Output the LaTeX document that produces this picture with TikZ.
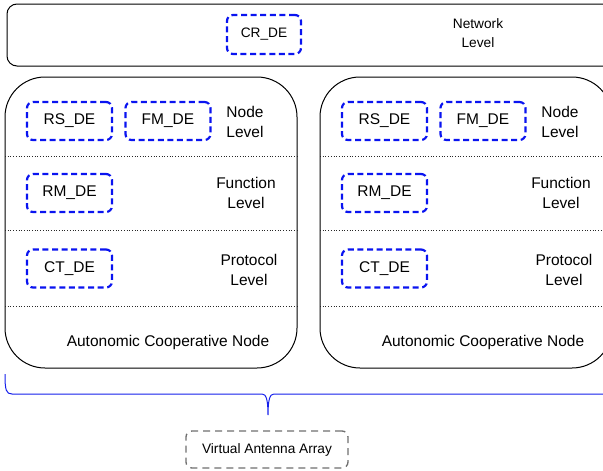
\documentclass[tikz,border=0pt]{standalone}
\usepackage{fontspec}
\setmainfont{Liberation Sans}
\usepackage{tikz}
\usetikzlibrary{arrows.meta,calc,positioning}
\definecolor{DEBlue}{RGB}{10,20,240}
\definecolor{BraceBlue}{RGB}{20,30,235}
\definecolor{ArrayGray}{RGB}{110,110,110}
\definecolor{LineGray}{RGB}{40,40,40}

\begin{document}
\begin{tikzpicture}[x=1pt,y=-1pt,
    detag/.style={draw=DEBlue,line width=2.2pt,dash pattern=on 6pt off 3.6pt,
      rounded corners=6pt,minimum width=85pt,minimum height=38pt,inner sep=0pt,
      font=\fontsize{15.5}{18}\selectfont},
    lvltxt/.style={align=center,font=\fontsize{15.5}{20}\selectfont},
    smalltxt/.style={align=center,font=\fontsize{13.7}{19}\selectfont}]
      \useasboundingbox (0,0) rectangle (603,471);
      \clip (0,0) rectangle (603,471);
      \draw[line width=1pt,rounded corners=10pt] (7,4) rectangle (640,66);
      \node[detag,minimum width=74pt,minimum height=39pt,
        font=\fontsize{13.7}{16}\selectfont] (crde) at (264,34.5) {CR\_DE};
      \node[smalltxt] (netlvl) at (478,33.5) {Network\\Level};
      \foreach \dx/\nm in {0/L,315/R}{
        \draw[line width=1pt,rounded corners=40pt]
          (5+\dx,77) rectangle (297+\dx,368);
        \foreach \yy in {156,230,306}
          \draw[LineGray,dotted,line width=0.7pt] (5+\dx,\yy)--(297+\dx,\yy);
        \node[detag] (rs\nm) at (69.5+\dx,121) {RS\_DE};
        \node[detag] (fm\nm) at (168+\dx,121) {FM\_DE};
        \node[detag] (rm\nm) at (69.5+\dx,193) {RM\_DE};
        \node[detag] (ct\nm) at (69.5+\dx,268.5) {CT\_DE};
        \node[lvltxt] (nodelvl\nm) at (245+\dx,122) {Node\\Level};
        \node[lvltxt] (funclvl\nm) at (246+\dx,193) {Function\\Level};
        \node[lvltxt] (protlvl\nm) at (249+\dx,269.5) {Protocol\\Level};
        \node[lvltxt] (acn\nm) at (168+\dx,342) {Autonomic Cooperative Node};
      }
      \draw[BraceBlue,line width=1pt] (5,374)
        .. controls (5,390) and (6,394) .. (12,394) -- (262,394)
        .. controls (266,394) and (268,399) .. (268,415)
        .. controls (268,399) and (270,394) .. (274,394) -- (640,394);
      \node[smalltxt,draw=ArrayGray,line width=1.3pt,dash pattern=on 7pt off 5pt,
        rounded corners=6pt,minimum width=162pt,minimum height=37pt,inner sep=0pt]
        (vaa) at (267,449.5) {Virtual Antenna Array};
\end{tikzpicture}
\end{document}
